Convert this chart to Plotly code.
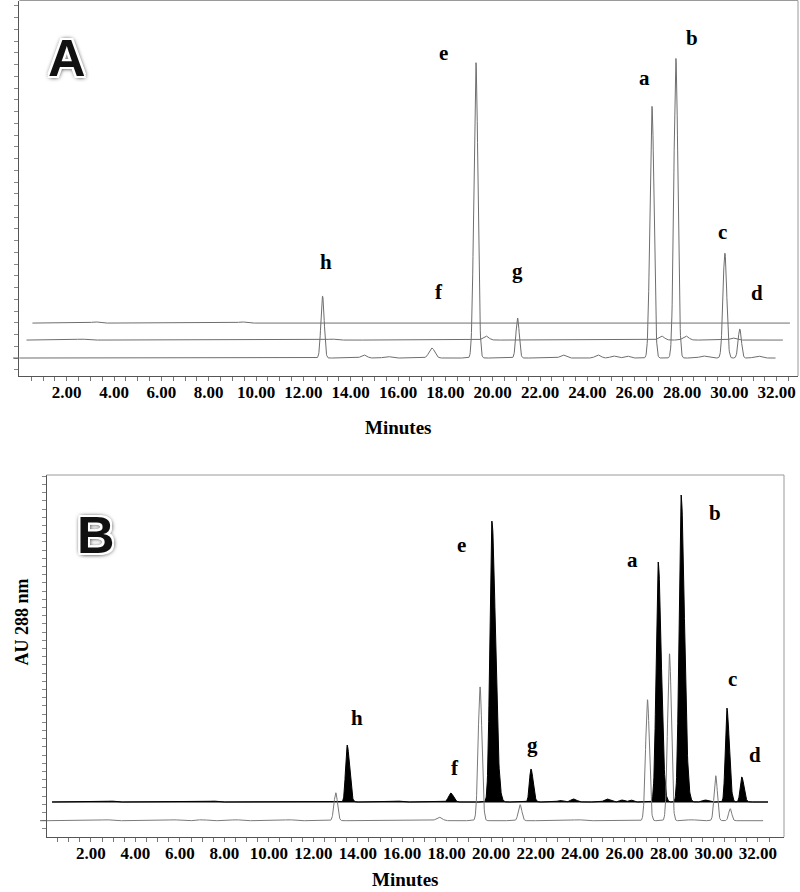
import numpy as np
import plotly.graph_objects as go

# ---------------- DATA ----------------
# Panel A: three chromatograms (retention time in minutes, peak height in mAU-like units)
A_bottom_rt = [12.81, 14.56, 15.55, 17.43, 19.29, 21.05, 22.97, 24.45, 25.10, 25.67, 26.73, 27.74, 28.90, 29.81, 30.44, 31.20]
A_bottom_h  = [62, 3, 1.5, 10, 296, 40, 3, 3, 2, 2, 252, 300, 2, 105, 29, 2]
A_bottom_w  = [0.07, 0.12, 0.15, 0.12, 0.085, 0.07, 0.12, 0.12, 0.12, 0.12, 0.085, 0.085, 0.15, 0.08, 0.07, 0.15]
A_middle_rt = [2.60, 13.20, 19.71, 27.13, 28.16, 30.15]
A_middle_h  = [1, 1, 4, 4, 4, 2]
A_middle_w  = [0.2, 0.15, 0.12, 0.12, 0.12, 0.12]
A_top_rt = [3.20, 9.40]
A_top_h  = [1.2, 1.2]
A_top_w  = [0.15, 0.15]
A_offsets = [0, 18, 35]          # vertical offsets of bottom / middle / top traces
A_spans = [(0.0, 31.95), (0.30, 32.26), (0.55, 32.56)]

A_labels = ["h", "f", "e", "g", "a", "b", "c", "d"]
A_label_x = [12.95, 17.73, 17.90, 21.06, 26.43, 28.41, 29.72, 31.16]
A_label_y = [96, 66, 305, 87, 280, 320, 126, 65]

# Panel B: filled (black) chromatogram and outline (gray) chromatogram
B_black_rt = [2.90, 7.50, 13.52, 15.80, 18.18, 20.03, 21.79, 23.10, 23.70, 25.20, 25.87, 26.28, 27.51, 28.54, 29.62, 30.60, 31.27]
B_black_h  = [1, 1, 57, 1, 9, 281, 33, 1.5, 3, 3, 2, 2, 240, 307, 2, 94, 25]
B_black_wl = [0.15, 0.15, 0.07, 0.15, 0.10, 0.09, 0.07, 0.12, 0.12, 0.12, 0.10, 0.10, 0.09, 0.09, 0.12, 0.07, 0.07]
B_black_wr = [0.15, 0.15, 0.11, 0.15, 0.12, 0.16, 0.10, 0.12, 0.14, 0.14, 0.10, 0.10, 0.14, 0.15, 0.12, 0.11, 0.10]
B_gray_rt = [2.68, 5.70, 7.00, 8.50, 10.90, 13.01, 17.66, 19.50, 21.30, 23.90, 27.03, 28.02, 29.00, 30.10, 30.75]
B_gray_h  = [1, 1, 1, 1, 1, 28, 3.5, 134, 16, 1, 121, 167, 1, 45, 12]
B_gray_w  = [0.2, 0.2, 0.2, 0.2, 0.2, 0.08, 0.13, 0.085, 0.08, 0.2, 0.085, 0.085, 0.2, 0.075, 0.07]
B_offsets = [0, 18.7]            # gray trace / black trace
B_spans = [(0.0, 32.23), (0.25, 32.45)]

B_labels = ["h", "f", "e", "g", "a", "b", "c", "d"]
B_label_x = [13.97, 18.38, 18.65, 21.84, 26.34, 30.07, 30.84, 31.87]
B_label_y = [103, 53, 276, 76, 261, 308, 142, 66]

tick_vals = [round(0.5 * i, 2) for i in range(1, 66)]
tick_text = [f"{v:.2f}" if abs(v % 2) < 1e-9 else "" for v in tick_vals]

# ---------------- helpers ----------------
def trace_curve(span, rts, hs, wl, wr=None, offset=0.0, n=3000):
    t = np.linspace(span[0], span[1], n)
    y = np.zeros_like(t)
    if wr is None:
        wr = wl
    for c, h, sl, sr in zip(rts, hs, wl, wr):
        s = np.where(t < c, sl, sr)
        y += h * np.exp(-0.5 * ((t - c) / s) ** 2)
    return t, y + offset

serif = "Liberation Serif, Times New Roman, serif"
fig = go.Figure()

# Panel A traces
A_sets = [(A_bottom_rt, A_bottom_h, A_bottom_w), (A_middle_rt, A_middle_h, A_middle_w), (A_top_rt, A_top_h, A_top_w)]
for (rts, hs, ws), off, span in zip(A_sets, A_offsets, A_spans):
    t, y = trace_curve(span, rts, hs, ws, offset=off)
    fig.add_trace(go.Scatter(x=t, y=y, mode="lines", line=dict(color="#6e6e6e", width=1),
                             xaxis="x", yaxis="y", showlegend=False, hoverinfo="skip"))

# Panel B black filled trace
t, y = trace_curve(B_spans[1], B_black_rt, B_black_h, B_black_wl, B_black_wr, offset=B_offsets[1])
fig.add_trace(go.Scatter(x=t, y=np.full_like(t, B_offsets[1]), mode="lines", line=dict(color="black", width=1),
                         xaxis="x2", yaxis="y2", showlegend=False, hoverinfo="skip"))
fig.add_trace(go.Scatter(x=t, y=y, mode="lines", line=dict(color="black", width=1), fill="tonexty",
                         fillcolor="black", xaxis="x2", yaxis="y2", showlegend=False, hoverinfo="skip"))
# Panel B gray outline trace
t, y = trace_curve(B_spans[0], B_gray_rt, B_gray_h, B_gray_w, offset=B_offsets[0])
fig.add_trace(go.Scatter(x=t, y=y, mode="lines", line=dict(color="#7a7a7a", width=1),
                         xaxis="x2", yaxis="y2", showlegend=False, hoverinfo="skip"))

W, H = 800, 892
A_dom_x = [19.4 / W, 798 / W]
A_dom_y = [1 - 376 / H, 1 - 0.5 / H]
B_dom_x = [46.5 / W, 784 / W]
B_dom_y = [1 - 837 / H, 1 - 475 / H]

A_yrange = [-18, 358]
B_yrange = [-16.3, 345.7]

def xaxis_cfg(domain, anchor, rng):
    return dict(domain=domain, anchor=anchor, range=rng, tickmode="array", tickvals=tick_vals,
                ticktext=tick_text, ticks="outside", ticklen=4, tickcolor="#777", tickwidth=1,
                ticklabelstandoff=-3,
                showline=True, linecolor="#555", linewidth=1, showgrid=False, zeroline=False,
                tickfont=dict(family=serif, size=17, color="black", weight="bold"))

def yaxis_cfg(domain, anchor, rng, step):
    vals = list(np.arange(0, rng[1], step)) + list(-np.arange(step, -rng[0], step))
    return dict(domain=domain, anchor=anchor, range=rng, tickmode="array", tickvals=vals,
                ticks="outside", ticklen=4, tickcolor="#888", tickwidth=1, showticklabels=False,
                showline=True, linecolor="#555", linewidth=1, showgrid=False, zeroline=False)

fig.update_layout(
    width=W, height=H, autosize=False,
    margin=dict(l=0, r=0, t=0, b=0),
    paper_bgcolor="white", plot_bgcolor="white",
    xaxis=xaxis_cfg(A_dom_x, "y", [0, 32.9]),
    yaxis=yaxis_cfg(A_dom_y, "x", A_yrange, 11.75),
    xaxis2=xaxis_cfg(B_dom_x, "y2", [0, 33.17]),
    yaxis2=yaxis_cfg(B_dom_y, "x2", B_yrange, 8.2),
)

shapes = []
for xd, yd in [("x domain", "y domain"), ("x2 domain", "y2 domain")]:
    shapes.append(dict(type="line", xref=xd, yref=yd, x0=0, x1=1, y0=1, y1=1, line=dict(color="#9a9a9a", width=1)))
    shapes.append(dict(type="line", xref=xd, yref=yd, x0=1, x1=1, y0=0, y1=1, line=dict(color="#9a9a9a", width=1)))
# baseline extensions left of the y axes
shapes.append(dict(type="line", xref="paper", yref="y", x0=13 / W, x1=19.4 / W, y0=0, y1=0, line=dict(color="#666", width=1)))
shapes.append(dict(type="line", xref="paper", yref="y2", x0=40 / W, x1=46.5 / W, y0=0, y1=0, line=dict(color="#666", width=1)))
fig.update_layout(shapes=shapes)

ann = []
for lab, x, y in zip(A_labels, A_label_x, A_label_y):
    ann.append(dict(text=lab, x=x, y=y, xref="x", yref="y", showarrow=False,
                    font=dict(family=serif, size=21, color="black", weight="bold")))
for lab, x, y in zip(B_labels, B_label_x, B_label_y):
    ann.append(dict(text=lab, x=x, y=y, xref="x2", yref="y2", showarrow=False,
                    font=dict(family=serif, size=21, color="black", weight="bold")))
ann.append(dict(text="Minutes", x=398 / W, y=1 - 427 / H, xref="paper", yref="paper", showarrow=False,
                font=dict(family=serif, size=19, color="black", weight="bold")))
ann.append(dict(text="Minutes", x=405 / W, y=0, xref="paper", yref="paper", showarrow=False,
                yanchor="bottom", yshift=0,
                font=dict(family=serif, size=19, color="black", weight="bold")))
ann.append(dict(text="AU 288 nm", x=9 / W, y=1 - 668 / H, xref="paper", yref="paper", showarrow=False,
                textangle=-90, font=dict(family=serif, size=18, color="black", weight="bold")))
shadow = ("2px 0 0 #fff, -2px 0 0 #fff, 0 2px 0 #fff, 0 -2px 0 #fff, 2px 2px 0 #fff, -2px -2px 0 #fff, "
          "2px -2px 0 #fff, -2px 2px 0 #fff, 0 0 4px #555, 0 0 5px #555, 1px 1px 5px #444")
for txt, px, py in [("A", 67, 58), ("B", 96, 535)]:
    ann.append(dict(text=txt, x=px / W, y=1 - py / H, xref="paper", yref="paper", showarrow=False,
                    xanchor="center", yanchor="middle",
                    font=dict(family="Liberation Sans, Arial, sans-serif", size=52, color="#111",
                              weight="bold", shadow=shadow)))
fig.update_layout(annotations=ann)

fig.write_html("out.html", config={"displayModeBar": False},
               post_script="document.body.style.margin='0';document.body.style.padding='0';")
